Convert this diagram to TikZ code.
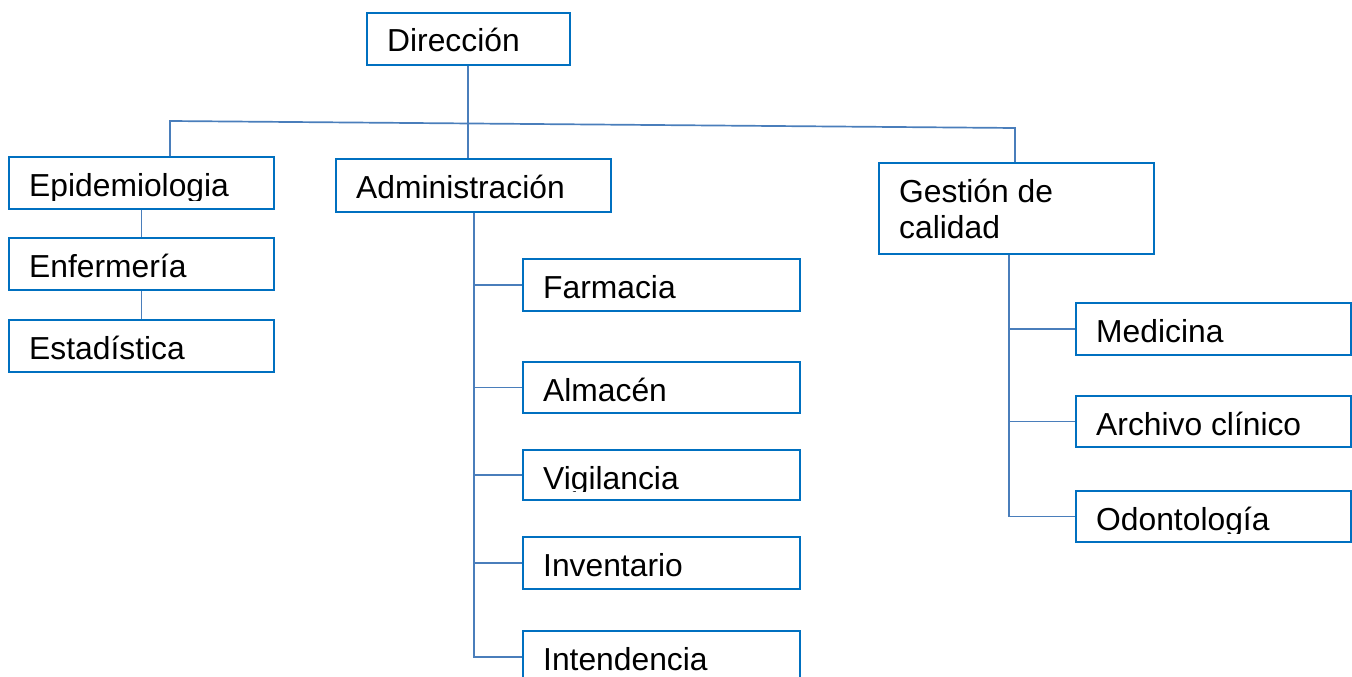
\documentclass[tikz,border=0pt]{standalone}
\usepackage{fontspec}
\setmainfont{Liberation Sans}
\definecolor{boxblue}{HTML}{0070C0}
\definecolor{lineblue}{HTML}{4A7EBB}
\newcommand\boxtext[3]{\begin{scope}\clip ([yshift=9pt]#1.south west) rectangle (#1.north east);\node[txt] (#2) at ([xshift=21pt,yshift=-40pt]#1.north west) {#3};\end{scope}}
\begin{document}
\begin{tikzpicture}[x=1pt,y=-1pt,
  obox/.style={draw=boxblue, line width=1.8pt, fill=white, anchor=north west, inner sep=0pt},
  txt/.style={font=\fontsize{31.8}{36}\selectfont, anchor=base west, inner sep=0pt},
  conn/.style={draw=lineblue, line width=1.7pt}]
\useasboundingbox (0,0) rectangle (1352,677);
% boxes
\node[obox, minimum width=203pt, minimum height=52pt] (dir) at (366,12) {};
\node[obox, minimum width=265pt, minimum height=52pt] (epi) at (8,156) {};
\node[obox, minimum width=275pt, minimum height=53pt] (adm) at (335,158) {};
\node[obox, minimum width=275pt, minimum height=91pt] (ges) at (878,162) {};
\node[obox, minimum width=265pt, minimum height=52pt] (enf) at (8,237) {};
\node[obox, minimum width=265pt, minimum height=52pt] (est) at (8,319) {};
\node[obox, minimum width=277pt, minimum height=52pt] (far) at (522,258) {};
\node[obox, minimum width=277pt, minimum height=51pt] (alm) at (522,361) {};
\node[obox, minimum width=277pt, minimum height=50pt] (vig) at (522,449) {};
\node[obox, minimum width=277pt, minimum height=52pt] (inv) at (522,536) {};
\node[obox, minimum width=277pt, minimum height=52pt] (int) at (522,630) {};
\node[obox, minimum width=275pt, minimum height=52pt] (med) at (1075,302) {};
\node[obox, minimum width=275pt, minimum height=51pt] (arc) at (1075,395) {};
\node[obox, minimum width=275pt, minimum height=51pt] (odo) at (1075,490) {};
% texts
\boxtext{dir}{tdir}{Dirección}
\boxtext{epi}{tepi}{Epidemiologia}
\boxtext{adm}{tadm}{Administración}
\boxtext{ges}{tges}{Gestión de}
\node[txt] (tges2) at ([xshift=21pt,yshift=-76pt]ges.north west) {calidad};
\boxtext{enf}{tenf}{Enfermería}
\boxtext{est}{test}{Estadística}
\boxtext{far}{tfar}{Farmacia}
\boxtext{alm}{talm}{Almacén}
\boxtext{vig}{tvig}{Vigilancia}
\boxtext{inv}{tinv}{Inventario}
\boxtext{int}{tint}{Intendencia}
\boxtext{med}{tmed}{Medicina}
\boxtext{arc}{tarc}{Archivo clínico}
\boxtext{odo}{todo}{Odontología}
% connectors
\coordinate (hl) at (170,121);
\coordinate (hr) at (1015,128);
\coordinate (ta) at (474,0);
\coordinate (tg) at (1009,0);
\draw[conn] (dir.south -| 468,0) -- (adm.north -| 468,0);
\draw[conn] (epi.north -| hl) -- (hl) -- (hr) -- (ges.north -| hr);
\draw[conn] (epi.south) -- (enf.north);
\draw[conn] (enf.south) -- (est.north);
\draw[conn] (adm.south -| ta) |- (int.west);
\draw[conn] (far.west -| ta) -- (far.west);
\draw[conn] (alm.west -| ta) -- (alm.west);
\draw[conn] (vig.west -| ta) -- (vig.west);
\draw[conn] (inv.west -| ta) -- (inv.west);
\draw[conn] (ges.south -| tg) |- (odo.west);
\draw[conn] (med.west -| tg) -- (med.west);
\draw[conn] (arc.west -| tg) -- (arc.west);
\end{tikzpicture}
\end{document}
